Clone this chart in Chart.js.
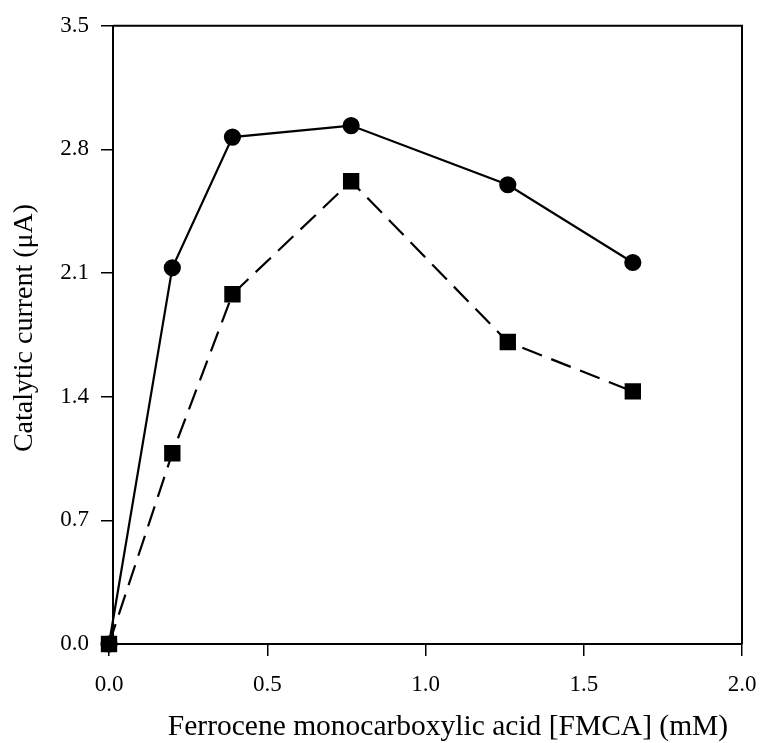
<!DOCTYPE html>
<html>
<head>
<meta charset="utf-8">
<script src="https://cdn.jsdelivr.net/npm/chart.js@4/dist/chart.umd.min.js"></script>
<style>
  html, body { margin: 0; padding: 0; background: #fff; }
  #wrap { width: 760px; height: 743px; }
</style>
</head>
<body>
<div id="wrap"><canvas id="fmcaChart" width="760" height="743"></canvas></div>
<script>
// FMCA concentration (mM)
const fmcaConc = [0, 0.2, 0.39, 0.765, 1.26, 1.655];
// catalytic current (uA), circle series (solid) and square series (dashed)
const currentCircle = [0, 2.13, 2.87, 2.935, 2.60, 2.16];
const currentSquare = [0, 1.08, 1.98, 2.62, 1.71, 1.43];
const xTicks = [0, 0.5, 1.0, 1.5, 2.0];
const yTicks = [0, 0.7, 1.4, 2.1, 2.8, 3.5];
const xTitle = 'Ferrocene monocarboxylic acid [FMCA] (mM)';
const yTitle = 'Catalytic current (μA)';

const serif = "'Liberation Serif', 'Times New Roman', serif";

const toPoints = ys => fmcaConc.map((x, i) => ({ x: x, y: ys[i] }));

const ctx = document.getElementById('fmcaChart').getContext('2d');

const axisGrid = {
  display: true,
  drawOnChartArea: false,
  drawTicks: true,
  tickLength: 12,
  color: '#000',
  lineWidth: 1.5
};

new Chart(ctx, {
  type: 'line',
  data: {
    datasets: [
      {
        data: toPoints(currentCircle),
        borderColor: '#000',
        backgroundColor: '#000',
        borderWidth: 2.2,
        pointStyle: 'circle',
        pointRadius: 7.5,
        pointHoverRadius: 7.5,
        fill: false,
        clip: false
      },
      {
        data: toPoints(currentSquare),
        borderColor: '#000',
        backgroundColor: '#000',
        borderWidth: 2.2,
        borderDash: [21, 10],
        pointStyle: 'rect',
        pointRadius: 10,
        pointHoverRadius: 10,
        fill: false,
        clip: false
      }
    ]
  },
  options: {
    responsive: false,
    animation: false,
    layout: { padding: { top: 24, right: 18, left: 0, bottom: 0 } },
    plugins: {
      legend: { display: false },
      tooltip: { enabled: false }
    },
    scales: {
      x: {
        type: 'linear',
        min: 0.0126,   // y axis sits a hair right of x = 0 in the original
        max: 2.0,
        afterBuildTicks: s => { s.ticks = xTicks.map(v => ({ value: v })); },
        afterFit: s => { s.height = 99; s.paddingLeft = 0; s.paddingRight = 0; },
        grid: axisGrid,
        border: { display: true, color: '#000', width: 2 },
        ticks: {
          padding: 15,
          color: '#000',
          font: { family: serif, size: 23 },
          callback: v => v.toFixed(1)
        },
        title: { display: false }
      },
      y: {
        type: 'linear',
        min: 0,
        max: 3.5,
        afterBuildTicks: s => { s.ticks = yTicks.map(v => ({ value: v })); },
        afterFit: s => { s.width = 113; },
        grid: axisGrid,
        border: { display: true, color: '#000', width: 2 },
        ticks: {
          padding: 12,
          color: '#000',
          font: { family: serif, size: 23 },
          callback: v => v.toFixed(1)
        },
        title: { display: false }
      }
    }
  },
  plugins: [{
    // top and right frame lines plus the two axis titles
    id: 'frame',
    afterDraw(chart) {
      const a = chart.chartArea;
      const c = chart.ctx;
      c.save();
      c.strokeStyle = '#000';
      c.lineWidth = 2;
      c.beginPath();
      c.moveTo(a.left, a.top);
      c.lineTo(a.right, a.top);
      c.lineTo(a.right, a.bottom);
      c.stroke();

      c.fillStyle = '#000';
      c.textAlign = 'center';
      c.textBaseline = 'alphabetic';
      c.font = '29.5px ' + serif;
      c.fillText(xTitle, 448, 735);

      c.font = '28px ' + serif;
      c.translate(32, 328);
      c.rotate(-Math.PI / 2);
      c.fillText(yTitle, 0, 0);
      c.restore();
    }
  }]
});
</script>
</body>
</html>
